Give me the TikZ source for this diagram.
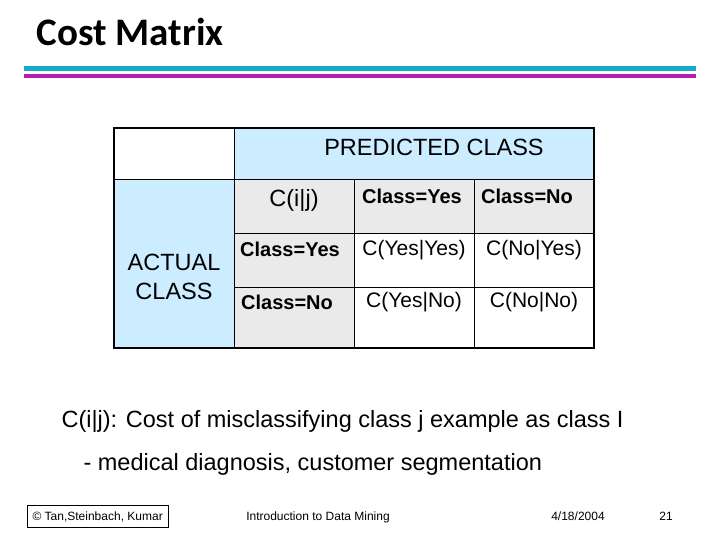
\documentclass[tikz,border=0pt]{standalone}
\usepackage{fontspec}
\setmainfont{Liberation Sans}
\newfontfamily\titlefont{Carlito}
\definecolor{lblue}{RGB}{204,236,255}
\definecolor{lgray}{RGB}{234,234,234}
\definecolor{cyanl}{RGB}{20,170,200}
\definecolor{magl}{RGB}{180,30,180}
\begin{document}
\begin{tikzpicture}[x=1pt,y=-1pt,
  cell/.style={font=\fontsize{21}{24}\selectfont},
  bcell/.style={font=\fontsize{20}{23}\selectfont\bfseries},
  big/.style={font=\fontsize{23.5}{27}\selectfont},
  foot/.style={font=\fontsize{12}{14}\selectfont,anchor=base}]
\useasboundingbox (0,0) rectangle (720,540);
\node[anchor=west,font=\titlefont\bfseries\fontsize{39}{42}\selectfont] (title) at (33,32) {Cost Matrix};
\fill[cyanl] (24,66) rectangle (696,71);
\fill[magl] (24,74) rectangle (696,78);
% table fills
\fill[lblue] (234,128) rectangle (594,180);
\fill[lblue] (114,180) rectangle (234,348);
\fill[lgray] (234,180) rectangle (594,233);
\fill[lgray] (234,233) rectangle (354,348);
\draw[line width=1.2pt] (114,128) rectangle (594,348);
\draw[line width=1pt] (114,180) -- (594,180) (234,128) -- (234,348)
  (354,180) -- (354,348) (474,180) -- (474,348)
  (234,233) -- (594,233) (234,287) -- (594,287);
\node[big] (pc) at (434,147) {PREDICTED CLASS};
\node[align=center,font=\fontsize{23.5}{29}\selectfont] (ac) at (174,277) {ACTUAL\\CLASS};
\node[big] (cij) at (294,200) {C(i|j)};
\node[bcell] (py) at (412,196) {Class=Yes};
\node[bcell] (pn) at (527,196) {Class=No};
\node[bcell] (ay) at (290,249) {Class=Yes};
\node[bcell] (an) at (287,302) {Class=No};
\node[cell] (yy) at (414,250) {C(Yes|Yes)};
\node[cell] (ny) at (534,250) {C(No|Yes)};
\node[cell] (yn) at (414,302) {C(Yes|No)};
\node[cell] (nn) at (534,302) {C(No|No)};
\node[anchor=west,big] (d1) at (58,421) {C(i|j): Cost of misclassifying class j example as class I};
\node[anchor=west,big] (d2) at (80,464) {- medical diagnosis, customer segmentation};
\draw (27,505) rectangle (168,527);
\node[foot,anchor=base west] (f1) at (29,520) {© Tan,Steinbach, Kumar};
\node[foot] (f2) at (318,520) {Introduction to Data Mining};
\node[foot] (f3) at (578,520) {4/18/2004};
\node[foot] (f4) at (666,520) {21};
\end{tikzpicture}
\end{document}
